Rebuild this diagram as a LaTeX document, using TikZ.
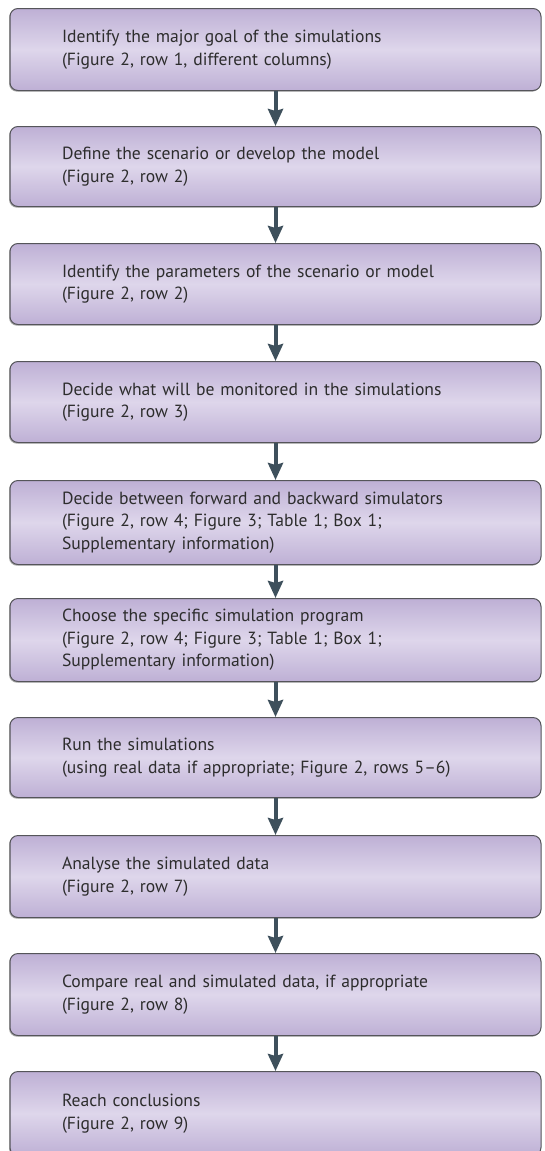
\documentclass[tikz,border=0pt]{standalone}
\usepackage{fontspec}
\setmainfont{PT Sans}
\usetikzlibrary{arrows.meta,shadows}
\definecolor{boxedge}{RGB}{85,85,90}
\definecolor{purpend}{RGB}{190,176,213}
\definecolor{purpmid}{RGB}{222,214,235}
\definecolor{arrowcol}{RGB}{62,80,92}
\definecolor{txt}{RGB}{45,45,45}
\tikzset{
  stepbox/.style={draw=boxedge, line width=1pt, rounded corners=8pt,
    top color=purpend, bottom color=purpend, middle color=purpmid,
    drop shadow={shadow xshift=-1pt, shadow yshift=-1.2pt, opacity=0.35, fill=black},
    text width=427pt, inner xsep=52pt, inner ysep=0pt, align=left,
    font=\fontsize{17.6}{22.5}\selectfont, text=txt, anchor=north},
  flow/.style={draw=arrowcol, line width=4pt,
    -{Stealth[width=15pt, length=17pt, inset=2pt]}, shorten >=0pt}
}
\begin{document}
\begin{tikzpicture}[x=1pt, y=-1pt]
\useasboundingbox (0,0) rectangle (544,1151);
\begin{scope}
\clip (0,0) rectangle (544,1151);
\node[stepbox, minimum height=82pt] (b1) at (275.5,8) {Identify the major goal of the simulations\\(Figure 2, row 1, different columns)};
\node[stepbox, minimum height=80pt] (b2) at (275.5,126) {Define the scenario or develop the model\\(Figure 2, row 2)};
\node[stepbox, minimum height=81pt] (b3) at (275.5,243) {Identify the parameters of the scenario or model\\(Figure 2, row 2)};
\node[stepbox, minimum height=81pt] (b4) at (275.5,361) {Decide what will be monitored in the simulations\\(Figure 2, row 3)};
\node[stepbox, minimum height=84pt] (b5) at (275.5,480) {Decide between forward and backward simulators\\(Figure 2, row 4; Figure 3; Table 1; Box 1;\\Supplementary information)};
\node[stepbox, minimum height=83pt] (b6) at (275.5,598) {Choose the specific simulation program\\(Figure 2, row 4; Figure 3; Table 1; Box 1;\\Supplementary information)};
\node[stepbox, minimum height=80pt] (b7) at (275.5,717) {Run the simulations\\(using real data if appropriate; Figure 2, rows 5--6)};
\node[stepbox, minimum height=82pt] (b8) at (275.5,835) {Analyse the simulated data\\(Figure 2, row 7)};
\node[stepbox, minimum height=82pt] (b9) at (275.5,953) {Compare real and simulated data, if appropriate\\(Figure 2, row 8)};
\node[stepbox, minimum height=84pt] (b10) at (275.5,1071) {Reach conclusions\\(Figure 2, row 9)};
\end{scope}
\foreach \a/\b in {b1/b2,b2/b3,b3/b4,b4/b5,b5/b6,b6/b7,b7/b8,b8/b9,b9/b10}{
  \draw[flow] (\a.south) -- (\b.north);
}
\end{tikzpicture}
\end{document}
